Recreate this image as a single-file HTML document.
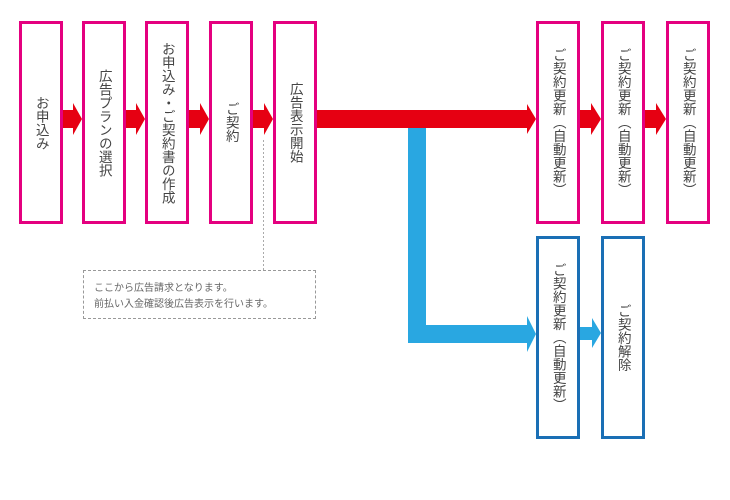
<!DOCTYPE html>
<html><head><meta charset="utf-8"><style>
body{margin:0;width:730px;height:500px;background:#fff;position:relative;overflow:hidden;font-family:"Liberation Sans","Noto Sans CJK JP",sans-serif}
.b{position:absolute;box-sizing:border-box;border:3px solid #e4007f;width:44px;height:203px;top:21px;display:flex;align-items:center;justify-content:center;background:#fff}
.b span{writing-mode:vertical-rl;font-size:13.5px;color:#444;letter-spacing:0;line-height:1}
.bl{border-color:#1a6fb5;top:236px}
svg{position:absolute;left:0;top:0}
.note{position:absolute;left:83px;top:270px;width:233px;height:49px;box-sizing:border-box;border:1px dashed #999;font-size:10px;color:#666;padding:10px 0 0 10px;line-height:16px}
</style></head><body>
<svg width="730" height="500">
<g fill="#e60012">
<polygon points="63,110 73,110 73,103 82,119 73,135 73,128 63,128"/>
<polygon points="126,110 136,110 136,103 145,119 136,135 136,128 126,128"/>
<polygon points="189,110 200,110 200,103 209,119 200,135 200,128 189,128"/>
<polygon points="253,110 264,110 264,103 273,119 264,135 264,128 253,128"/>
<polygon points="580,110 591,110 591,103 601,119 591,135 591,128 580,128"/>
<polygon points="645,110 656,110 656,103 666,119 656,135 656,128 645,128"/>
</g>
<g fill="#29a7e1">
<polygon points="408,128 426,128 426,325 527,325 527,316 536,334 527,352 527,343 408,343"/>
<polygon points="580,327 592,327 592,318 601,333 592,348 592,340 580,340"/>
</g>
<polygon fill="#e60012" points="317,110 527,110 527,104 536,119 527,134 527,128 317,128"/>
<line x1="263.5" y1="140" x2="263.5" y2="270" stroke="#aaa" stroke-dasharray="2,2"/>
</svg>
<div class="b" style="left:19px"><span>お申込み</span></div>
<div class="b" style="left:82px"><span>広告プランの選択</span></div>
<div class="b" style="left:145px"><span>お申込み・ご契約書の作成</span></div>
<div class="b" style="left:209px"><span>ご契約</span></div>
<div class="b" style="left:273px"><span>広告表示開始</span></div>
<div class="b" style="left:536px"><span>ご契約更新（自動更新）</span></div>
<div class="b" style="left:601px"><span>ご契約更新（自動更新）</span></div>
<div class="b" style="left:666px"><span>ご契約更新（自動更新）</span></div>
<div class="b bl" style="left:536px"><span>ご契約更新（自動更新）</span></div>
<div class="b bl" style="left:601px"><span>ご契約解除</span></div>
<div class="note">ここから広告請求となります。<br>前払い入金確認後広告表示を行います。</div>
</body></html>
